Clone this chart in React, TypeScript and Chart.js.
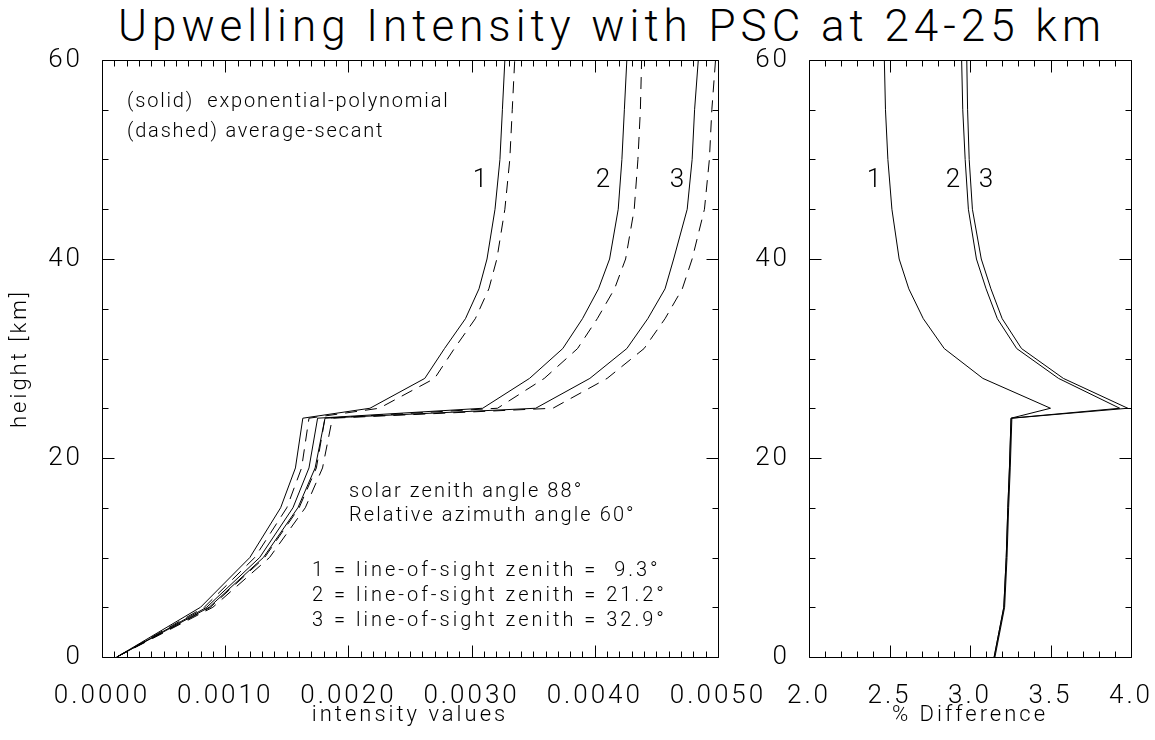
import React, { useEffect, useRef } from "react";
import { Chart, registerables } from "chart.js";

Chart.register(...registerables);

const FONT = '"DejaVu Sans ExtraLight", "Roboto", sans-serif';
const WEIGHT = 300;

const TITLE = "Upwelling Intensity with PSC at 24-25 km";

// heights (km) at which the profiles are given
const heights = [0, 5, 10, 15, 19, 24, 25, 28, 31, 34, 37, 40, 45, 50, 55, 60];

// left panel: intensity values (solid = exponential-polynomial, dashed = average-secant)
const expPoly1 = [0.00012, 0.0008, 0.0012, 0.00145, 0.00157, 0.00163, 0.002175, 0.00262, 0.00278, 0.00295, 0.00306, 0.003125, 0.00319, 0.00323, 0.00325, 0.00327];
const avgSec1 = [0.00012, 0.00083, 0.00124, 0.0015, 0.00162, 0.00168, 0.00225, 0.0027, 0.00286, 0.00303, 0.00314, 0.003205, 0.00327, 0.00331, 0.00333, 0.00335];
const expPoly2 = [0.00012, 0.00085, 0.00128, 0.00155, 0.00168, 0.00175, 0.00309, 0.00347, 0.00374, 0.0039, 0.00403, 0.00412, 0.00419, 0.00422, 0.00424, 0.00426];
const avgSec2 = [0.00012, 0.00088, 0.00132, 0.0016, 0.00174, 0.00181, 0.00321, 0.00359, 0.00386, 0.00402, 0.00416, 0.00425, 0.00432, 0.00435, 0.00437, 0.00438];
const expPoly3 = [0.00012, 0.00087, 0.00131, 0.00159, 0.00173, 0.00181, 0.00352, 0.00396, 0.00426, 0.00443, 0.00457, 0.00464, 0.00475, 0.00479, 0.00481, 0.00484];
const avgSec3 = [0.00012, 0.0009, 0.00136, 0.00165, 0.00179, 0.00187, 0.00366, 0.0041, 0.0044, 0.00457, 0.00471, 0.00479, 0.00489, 0.00493, 0.00495, 0.00498];

// right panel: % difference
const pctDiff1 = [3.15, 3.21, 3.225, 3.235, 3.245, 3.255, 3.5, 3.08, 2.84, 2.71, 2.62, 2.56, 2.515, 2.49, 2.475, 2.468];
const pctDiff2 = [3.15, 3.21, 3.225, 3.235, 3.245, 3.255, 3.93, 3.55, 3.29, 3.17, 3.1, 3.04, 2.99, 2.97, 2.955, 2.948];
const pctDiff3 = [3.155, 3.215, 3.23, 3.24, 3.25, 3.26, 3.98, 3.58, 3.32, 3.2, 3.13, 3.07, 3.015, 2.995, 2.985, 2.98];

// tick labels
const intensityTicks = [0, 0.001, 0.002, 0.003, 0.004, 0.005];
const heightTicks = [0, 20, 40, 60];
const pctTicks = [2.0, 2.5, 3.0, 3.5, 4.0];

type Note = { text: string; x: number; y: number; size: number; align: CanvasTextAlign; spacing: string };

const leftNotes: Note[] = [
  { text: "(solid)  exponential-polynomial", x: 0.000203, y: 55.8, size: 20, align: "left", spacing: "1.8px" },
  { text: "(dashed) average-secant", x: 0.000203, y: 52.8, size: 20, align: "left", spacing: "1.8px" },
  { text: "solar zenith angle 88°", x: 0.002005, y: 16.6, size: 20, align: "left", spacing: "2.1px" },
  { text: "Relative azimuth angle 60°", x: 0.002005, y: 14.15, size: 20, align: "left", spacing: "2.1px" },
  { text: "1 = line-of-sight zenith =  9.3°", x: 0.001705, y: 8.6, size: 20, align: "left", spacing: "3px" },
  { text: "2 = line-of-sight zenith = 21.2°", x: 0.001705, y: 6.1, size: 20, align: "left", spacing: "3px" },
  { text: "3 = line-of-sight zenith = 32.9°", x: 0.001705, y: 3.65, size: 20, align: "left", spacing: "3px" },
  { text: "1", x: 0.003068, y: 47.9, size: 26, align: "center", spacing: "0px" },
  { text: "2", x: 0.004067, y: 47.9, size: 26, align: "center", spacing: "0px" },
  { text: "3", x: 0.004667, y: 47.9, size: 26, align: "center", spacing: "0px" },
];

const rightNotes: Note[] = [
  { text: "1", x: 2.404, y: 47.9, size: 26, align: "center", spacing: "0px" },
  { text: "2", x: 2.894, y: 47.9, size: 26, align: "center", spacing: "0px" },
  { text: "3", x: 3.099, y: 47.9, size: 26, align: "center", spacing: "0px" },
];

const pts = (xs: number[]) => xs.map((v, i) => ({ x: v, y: heights[i] }));

function framePlugin(xMinor: number, yMinor: number, notes: Note[]) {
  return {
    id: "idlFrame",
    beforeDraw(chart: any) {
      chart.ctx.letterSpacing = "3px";
    },
    afterDraw(chart: any) {
      const { ctx, chartArea: a } = chart;
      const xs = chart.scales.x;
      const ys = chart.scales.y;
      ctx.save();
      ctx.letterSpacing = "0px";
      ctx.strokeStyle = "#000";
      ctx.lineWidth = 1;
      const L = Math.round(a.left) + 0.5;
      const R = Math.round(a.right) + 0.5;
      const T = Math.round(a.top) + 0.5;
      const B = Math.round(a.bottom) + 0.5;
      ctx.beginPath();
      ctx.rect(L, T, R - L, B - T);
      const MAJ = 12;
      const MIN = 6;
      const xMaj = xs.ticks.map((t: any) => t.value);
      const yMaj = ys.ticks.map((t: any) => t.value);
      const nx = Math.round((xs.max - xs.min) / xMinor);
      for (let i = 0; i <= nx; i++) {
        const v = xs.min + i * xMinor;
        const isMaj = xMaj.some((m: number) => Math.abs(m - v) < xMinor / 100);
        const len = isMaj ? MAJ : MIN;
        const p = Math.round(xs.getPixelForValue(v)) + 0.5;
        ctx.moveTo(p, B);
        ctx.lineTo(p, B - len);
        ctx.moveTo(p, T);
        ctx.lineTo(p, T + len);
      }
      const ny = Math.round((ys.max - ys.min) / yMinor);
      for (let i = 0; i <= ny; i++) {
        const v = ys.min + i * yMinor;
        const isMaj = yMaj.some((m: number) => Math.abs(m - v) < yMinor / 100);
        const len = isMaj ? MAJ : MIN;
        const p = Math.round(ys.getPixelForValue(v)) + 0.5;
        ctx.moveTo(L, p);
        ctx.lineTo(L + len, p);
        ctx.moveTo(R, p);
        ctx.lineTo(R - len, p);
      }
      ctx.stroke();
      ctx.fillStyle = "#000";
      ctx.textBaseline = "middle";
      for (const n of notes) {
        ctx.font = `${WEIGHT} ${n.size}px ${FONT}`;
        ctx.letterSpacing = n.spacing;
        ctx.textAlign = n.align;
        ctx.fillText(n.text, xs.getPixelForValue(n.x), ys.getPixelForValue(n.y));
      }
      ctx.restore();
    },
  };
}

const tickFont = { family: FONT, size: 26, weight: WEIGHT as any };
const titleFont = { family: FONT, size: 22, weight: WEIGHT as any };

function lineDs(data: number[], dashed: boolean) {
  return {
    data: pts(data),
    borderColor: "#000",
    backgroundColor: "#000",
    borderWidth: 1,
    borderDash: dashed ? [12, 8] : [],
    pointRadius: 0,
    tension: 0,
    fill: false,
  };
}

const fitX = (s: any) => {
  s.height = 83;
  s.paddingLeft = 0;
  s.paddingRight = 0;
};

export default function App() {
  const leftRef = useRef<HTMLCanvasElement>(null);
  const rightRef = useRef<HTMLCanvasElement>(null);

  useEffect(() => {
    const left = new Chart(leftRef.current as HTMLCanvasElement, {
      type: "line",
      data: {
        datasets: [
          lineDs(expPoly1, false),
          lineDs(avgSec1, true),
          lineDs(expPoly2, false),
          lineDs(avgSec2, true),
          lineDs(expPoly3, false),
          lineDs(avgSec3, true),
        ] as any,
      },
      options: {
        animation: false,
        responsive: false,
        devicePixelRatio: 1,
        layout: { padding: { top: 60, right: 72, left: 0, bottom: 0 } },
        plugins: { legend: { display: false }, tooltip: { enabled: false } },
        scales: {
          x: {
            type: "linear",
            min: 0,
            max: 0.005,
            afterBuildTicks: (s: any) => {
              s.ticks = intensityTicks.map((v) => ({ value: v }));
            },
            afterFit: fitX,
            ticks: {
              callback: (v: any) => Number(v).toFixed(4),
              font: tickFont,
              color: "#000",
              padding: 16,
              autoSkip: false,
              maxRotation: 0,
              minRotation: 0,
            },
            grid: { display: false },
            border: { display: false },
            title: { display: true, text: "intensity values", font: titleFont, color: "#000", padding: { top: 0, bottom: 11 } },
          },
          y: {
            type: "linear",
            min: 0,
            max: 60,
            afterBuildTicks: (s: any) => {
              s.ticks = heightTicks.map((v) => ({ value: v }));
            },
            afterFit: (s: any) => {
              s.width = 102;
            },
            ticks: {
              callback: (v: any) => String(v),
              font: tickFont,
              color: "#000",
              padding: 11,
              autoSkip: false,
            },
            grid: { display: false },
            border: { display: false },
            title: { display: true, text: "height [km]", font: titleFont, color: "#000", padding: { top: 7, bottom: 0 } },
          },
        },
      },
      plugins: [framePlugin(0.0001, 5, leftNotes)],
    });

    const right = new Chart(rightRef.current as HTMLCanvasElement, {
      type: "line",
      data: {
        datasets: [lineDs(pctDiff1, false), lineDs(pctDiff2, false), lineDs(pctDiff3, false)] as any,
      },
      options: {
        animation: false,
        responsive: false,
        devicePixelRatio: 1,
        layout: { padding: { top: 60, right: 24, left: 0, bottom: 0 } },
        plugins: { legend: { display: false }, tooltip: { enabled: false } },
        scales: {
          x: {
            type: "linear",
            min: 2,
            max: 4,
            afterBuildTicks: (s: any) => {
              s.ticks = pctTicks.map((v) => ({ value: v }));
            },
            afterFit: fitX,
            ticks: {
              callback: (v: any) => Number(v).toFixed(1),
              font: tickFont,
              color: "#000",
              padding: 16,
              autoSkip: false,
              maxRotation: 0,
              minRotation: 0,
            },
            grid: { display: false },
            border: { display: false },
            title: { display: true, text: "% Difference", font: titleFont, color: "#000", padding: { top: 0, bottom: 11 } },
          },
          y: {
            type: "linear",
            min: 0,
            max: 60,
            afterBuildTicks: (s: any) => {
              s.ticks = heightTicks.map((v) => ({ value: v }));
            },
            afterFit: (s: any) => {
              s.width = 69;
            },
            ticks: {
              callback: (v: any) => String(v),
              font: tickFont,
              color: "#000",
              padding: 11,
              autoSkip: false,
            },
            grid: { display: false },
            border: { display: false },
          },
        },
      },
      plugins: [framePlugin(0.1, 5, rightNotes)],
    });

    return () => {
      left.destroy();
      right.destroy();
    };
  }, []);

  return (
    <div style={{ position: "fixed", left: 0, top: 0, width: 1155, height: 740, background: "#fff", overflow: "hidden" }}>
      <div
        style={{
          position: "absolute",
          left: 69,
          width: 1086,
          top: 0,
          textAlign: "center",
          fontFamily: FONT,
          fontWeight: WEIGHT,
          fontSize: 44,
          lineHeight: "52px",
          letterSpacing: "5px",
          color: "#000",
          whiteSpace: "nowrap",
        }}
      >
        {TITLE}
      </div>
      <canvas ref={leftRef} width={790} height={740} style={{ position: "absolute", left: 0, top: 0, width: 790, height: 740 }} />
      <canvas ref={rightRef} width={415} height={740} style={{ position: "absolute", left: 740, top: 0, width: 415, height: 740 }} />
    </div>
  );
}
